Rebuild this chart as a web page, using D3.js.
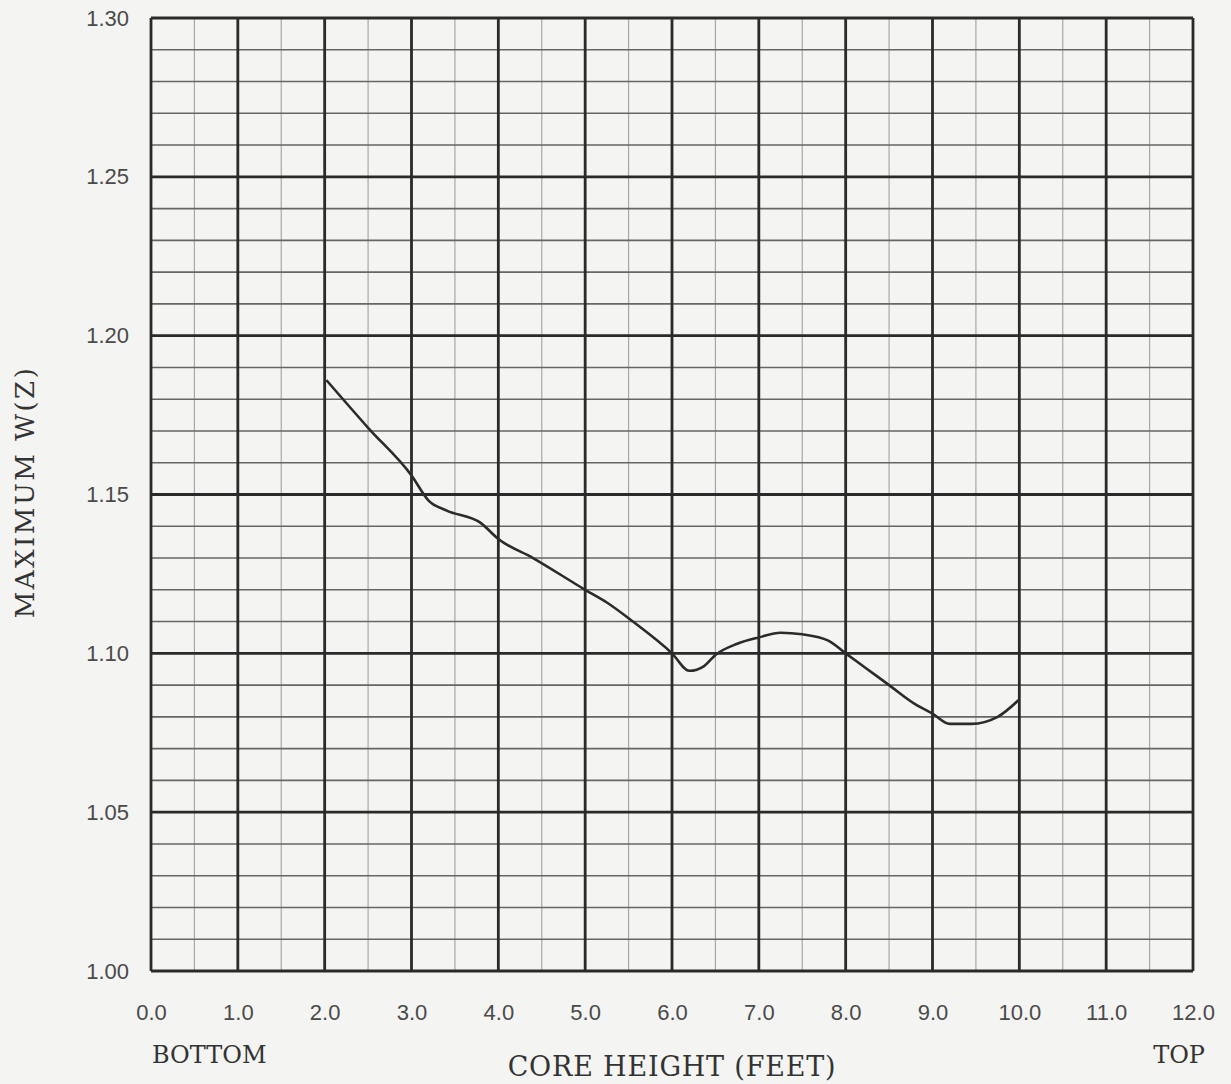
<!DOCTYPE html>
<html>
<head>
<meta charset="utf-8">
<script src="https://cdn.jsdelivr.net/npm/d3@7"></script>
<style>
  body { margin: 0; background: #f4f4f2; }
  svg { display: block; }
</style>
</head>
<body>
<script>
// core height (feet) vs max W(Z)
const coreHeight = [2.02, 2.5, 3.0, 3.2, 3.4, 3.8, 4.0, 4.4, 5.0, 5.25, 5.55, 6.0, 6.2, 6.37, 6.5, 6.75, 7.0, 7.25, 7.5, 7.8, 8.0, 8.25, 8.5, 8.8, 9.0, 9.2, 9.45, 9.75, 10.0];
const maxW = [1.186, 1.171, 1.156, 1.148, 1.145, 1.141, 1.136, 1.130, 1.120, 1.116, 1.110, 1.100, 1.0945, 1.096, 1.0995, 1.103, 1.105, 1.1065, 1.106, 1.104, 1.100, 1.095, 1.090, 1.084, 1.081, 1.0778, 1.0778, 1.080, 1.0855];
const xTicks = [0, 1, 2, 3, 4, 5, 6, 7, 8, 9, 10, 11, 12];
const yTicks = [1.00, 1.05, 1.10, 1.15, 1.20, 1.25, 1.30];

const wSvg = 1231, hSvg = 1084;
const xLeft = 151, xRight = 1193, yTop = 18, yBottom = 971;

const svg = d3.select("body").append("svg")
    .attr("width", wSvg)
    .attr("height", hSvg);

const xScale = d3.scaleLinear([0, 12], [xLeft, xRight]);
const yScale = d3.scaleLinear([1.0, 1.3], [yBottom, yTop]);

// minor grid: half foot verticals, 0.01 horizontals
const xMinor = d3.range(0, 12).map(i => i + 0.5);
const yMinor = d3.range(0, 31).map(i => 1 + i * 0.01).filter((v, i) => i % 5 != 0);

svg.append("g")
    .selectAll("line")
    .data(xMinor)
    .enter()
    .append("line")
    .attr("x1", d => xScale(d)).attr("x2", d => xScale(d))
    .attr("y1", yTop).attr("y2", yBottom)
    .attr("stroke", "#a8a8a8")
    .attr("stroke-width", 1.2);

svg.append("g")
    .selectAll("line")
    .data(yMinor)
    .enter()
    .append("line")
    .attr("x1", xLeft).attr("x2", xRight)
    .attr("y1", d => yScale(d)).attr("y2", d => yScale(d))
    .attr("stroke", "#666")
    .attr("stroke-width", 1.6);

// major grid
svg.append("g")
    .selectAll("line")
    .data(xTicks)
    .enter()
    .append("line")
    .attr("x1", d => xScale(d)).attr("x2", d => xScale(d))
    .attr("y1", yTop).attr("y2", yBottom)
    .attr("stroke", "#2a2a2a")
    .attr("stroke-width", 2.8);

svg.append("g")
    .selectAll("line")
    .data(yTicks)
    .enter()
    .append("line")
    .attr("x1", xLeft).attr("x2", xRight)
    .attr("y1", d => yScale(d)).attr("y2", d => yScale(d))
    .attr("stroke", "#2a2a2a")
    .attr("stroke-width", 2.8);

// tick labels only
let xAxis = svg.append("g")
    .attr("transform", `translate(0, ${yBottom})`)
    .call(d3.axisBottom(xScale).tickValues(xTicks).tickFormat(d3.format(".1f")).tickSize(0).tickPadding(33));

let yAxis = svg.append("g")
    .attr("transform", `translate(${xLeft}, 0)`)
    .call(d3.axisLeft(yScale).tickValues(yTicks).tickFormat(d3.format(".2f")).tickSize(0).tickPadding(22));

svg.selectAll(".domain").remove();
svg.selectAll(".tick text")
    .attr("font-family", "Liberation Sans, Arial, sans-serif")
    .attr("font-size", 22)
    .attr("fill", "#4a4a4a");

const dMaker = d3.line()
    .x(d => xScale(d[0]))
    .y(d => yScale(d[1]))
    .curve(d3.curveMonotoneX);

svg.append("path")
    .datum(coreHeight.map((h, i) => [h, maxW[i]]))
    .attr("fill", "none")
    .attr("stroke", "#2b2b2b")
    .attr("stroke-width", 2.6)
    .attr("d", dMaker);

const serif = "DejaVu Serif, serif";
svg.append("text")
    .attr("x", 152).attr("y", 1063)
    .attr("font-family", serif).attr("font-size", 24).attr("fill", "#333")
    .text("BOTTOM");
svg.append("text")
    .attr("x", 1205).attr("y", 1063)
    .attr("text-anchor", "end")
    .attr("font-family", serif).attr("font-size", 24).attr("fill", "#333")
    .text("TOP");
svg.append("text")
    .attr("x", 672).attr("y", 1076)
    .attr("text-anchor", "middle")
    .attr("font-family", serif).attr("font-size", 27)
    .attr("letter-spacing", 0.8).attr("fill", "#333")
    .text("CORE HEIGHT (FEET)");
svg.append("text")
    .attr("transform", "translate(34, 492) rotate(-90)")
    .attr("text-anchor", "middle")
    .attr("font-family", serif).attr("font-size", 26)
    .attr("letter-spacing", 2.5).attr("fill", "#333")
    .text("MAXIMUM W(Z)");
</script>
</body>
</html>
